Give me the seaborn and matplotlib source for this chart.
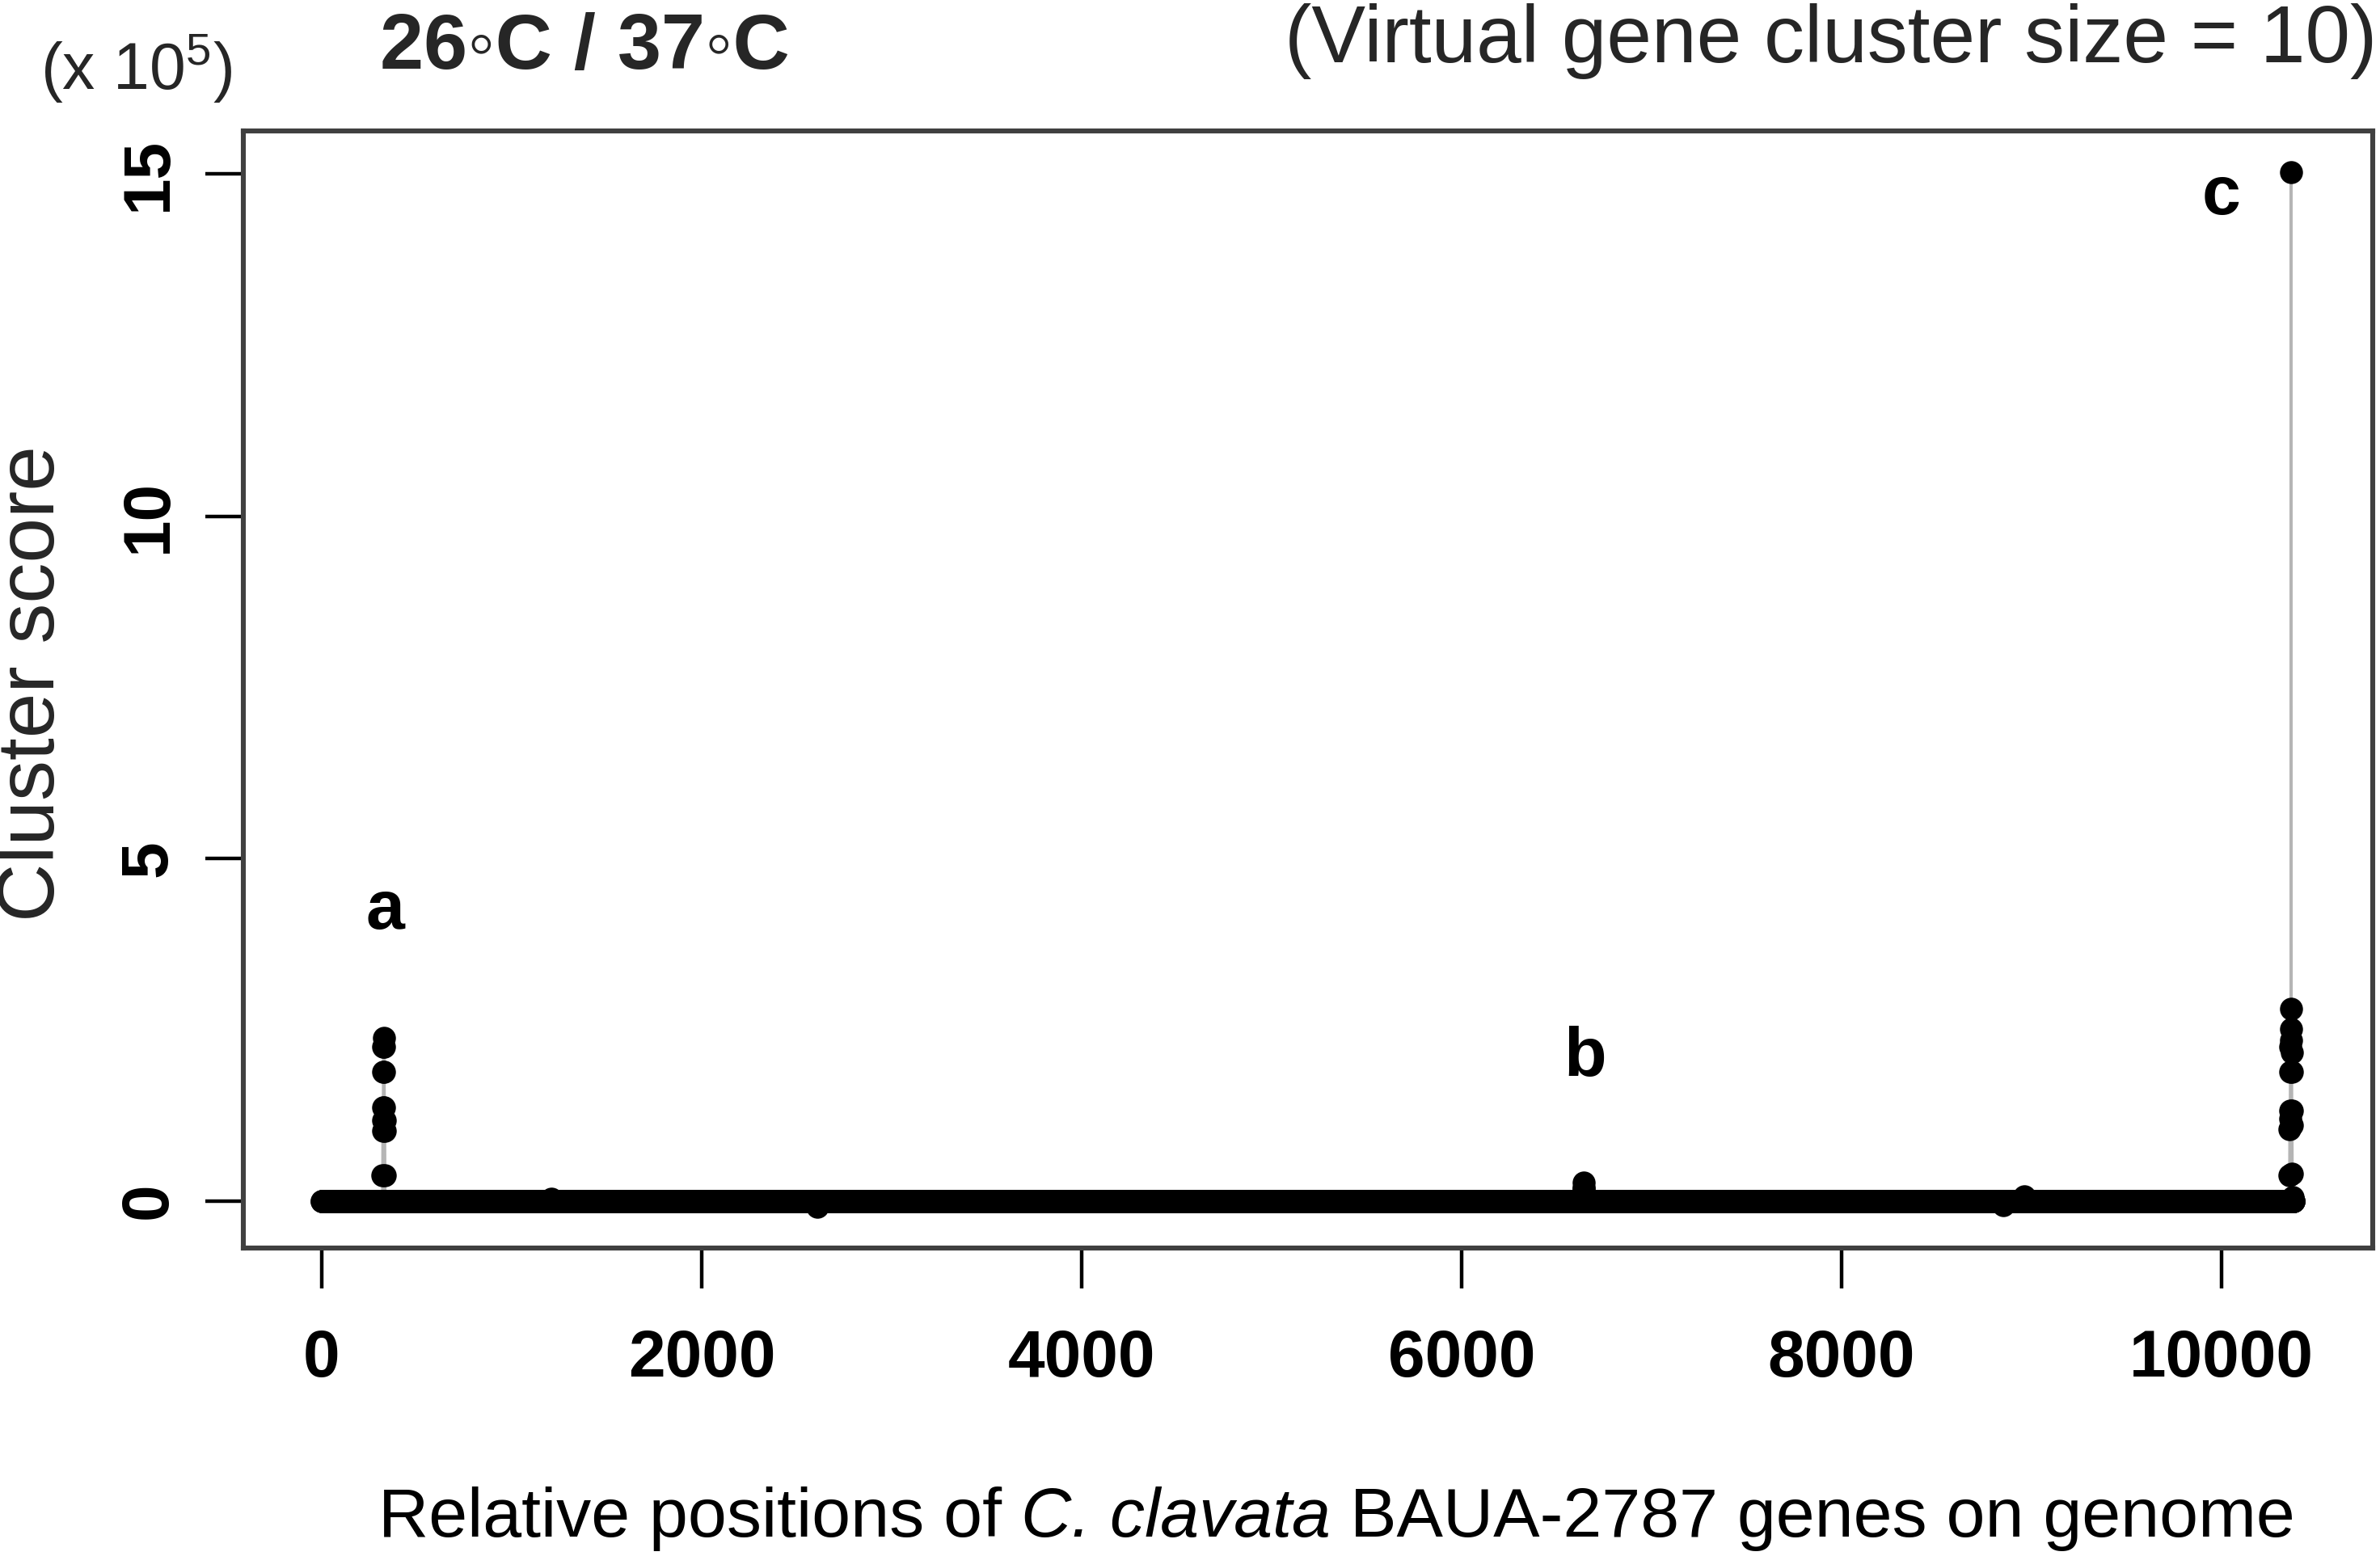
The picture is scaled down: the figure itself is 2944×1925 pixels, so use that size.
import numpy as np
import pandas as pd
import matplotlib
matplotlib.use("Agg")
import matplotlib.pyplot as plt
from matplotlib.offsetbox import TextArea, HPacker, AnchoredOffsetbox
import seaborn as sns

# ---------------- data ----------------
n_genes = 10380                      # number of genes along the genome
peak_a_pos = [321, 322, 323, 324, 325, 326, 327, 328, 329, 330, 331, 332, 333]
peak_a_score = [0.37, 1.02, 1.18, 1.37, 1.89, 2.25, 2.38, 2.25, 1.89, 1.37, 1.18, 1.02, 0.37]
peak_b_pos = [6641, 6642, 6643, 6644, 6645]
peak_b_score = [0.08, 0.18, 0.27, 0.18, 0.08]
peak_c_pos = [10358, 10359, 10360, 10361, 10362, 10363, 10364, 10365, 10366,
              10367, 10368, 10369, 10370, 10371, 10372, 10373]
peak_c_score = [0.37, 1.05, 1.20, 1.32, 1.89, 2.25, 2.35, 2.80, 15.03,
                2.51, 2.17, 1.89, 1.32, 1.10, 0.40, 0.05]
minor_pos = [1210, 2610, 8850, 8960]
minor_score = [0.03, -0.09, -0.06, 0.06]

x_ticks = [0, 2000, 4000, 6000, 8000, 10000]
y_ticks = [0, 5, 10, 15]
peak_labels = ["a", "b", "c"]
peak_label_x = [336, 6650, 10000]
peak_label_y = [4.24, 2.09, 14.67]

# build the table (baseline ~0, with read-off peaks)
score = np.zeros(n_genes)
pos = np.arange(1, n_genes + 1)
for p, s in zip(peak_a_pos + peak_b_pos + peak_c_pos + minor_pos,
                peak_a_score + peak_b_score + peak_c_score + minor_score):
    score[p - 1] = s
df = pd.DataFrame({"position": pos, "score": score})

# ---------------- style ----------------
sns.set_theme(style="white")
plt.rcParams["font.family"] = ["Liberation Sans", "DejaVu Sans"]
plt.rcParams["mathtext.fontset"] = "custom"
plt.rcParams["mathtext.rm"] = "Liberation Sans"
plt.rcParams["mathtext.it"] = "Liberation Sans:italic"
plt.rcParams["mathtext.bf"] = "Liberation Sans:bold"

DPI = 200
fig = plt.figure(figsize=(2944 / DPI, 1925 / DPI), dpi=DPI)
ax = fig.add_axes([0.1021, 0.1977, 0.8948, 0.7184])

sns.lineplot(data=df, x="position", y="score", ax=ax, color="#b5b5b5",
             linewidth=1.3, sort=True, estimator=None, zorder=2)
sns.scatterplot(data=df, x="position", y="score", ax=ax, color="black",
                s=105, edgecolor="black", linewidth=0, zorder=3, legend=False)

ax.set_xlim(-414, 10795)
ax.set_ylim(-0.695, 15.635)
ax.set_xticks(x_ticks)
ax.set_xticklabels([str(t) for t in x_ticks], fontsize=29.5, fontweight="bold")
ax.set_yticks(y_ticks)
ax.set_yticklabels([str(t) for t in y_ticks], fontsize=29.5, fontweight="bold",
                   rotation=90, va="center")
ax.tick_params(axis="x", direction="out", length=18, width=1.6, pad=18,
               colors="black", bottom=True)
ax.tick_params(axis="y", direction="out", length=17, width=1.6, pad=11,
               colors="black", left=True)
ax.set_xlabel("")
ax.set_ylabel("")
for side in ["top", "bottom", "left", "right"]:
    ax.spines[side].set_visible(True)
    ax.spines[side].set_color("#404040")
    ax.spines[side].set_linewidth(2.2)
ax.grid(False)

for lab, lx, ly in zip(peak_labels, peak_label_x, peak_label_y):
    ax.text(lx, ly, lab, fontsize=31, fontweight="bold", ha="center",
            va="center", color="black")

# outer texts
fig.text(0.0574, 0.956, r"(x 10$^{5}$)", fontsize=29, ha="center", va="center")
fig.text(0.1596, 0.969, "26\u25e6C / 37\u25e6C", fontsize=35, fontweight="bold",
         ha="left", va="center")
fig.text(0.9988, 0.9736, "(Virtual gene cluster size = 10)", fontsize=36,
         ha="right", va="center")
fig.text(0.014, 0.561, "Cluster score", fontsize=36, rotation=90,
         ha="center", va="center")

xl_size = 31
xl_parts = [
    TextArea("Relative positions of", textprops=dict(fontsize=xl_size, color="black")),
    TextArea("C. clavata", textprops=dict(fontsize=xl_size, style="italic", color="black")),
    TextArea("BAUA-2787 genes on genome", textprops=dict(fontsize=xl_size, color="black")),
]
xl_box = HPacker(children=xl_parts, align="baseline", pad=0, sep=xl_size * 0.278)
xl_anchor = AnchoredOffsetbox(loc="center", child=xl_box, pad=0, borderpad=0,
                              frameon=False, bbox_to_anchor=(0.5617, 0.024),
                              bbox_transform=fig.transFigure)
fig.add_artist(xl_anchor)

fig.savefig("out.png", dpi=DPI, facecolor="white")
